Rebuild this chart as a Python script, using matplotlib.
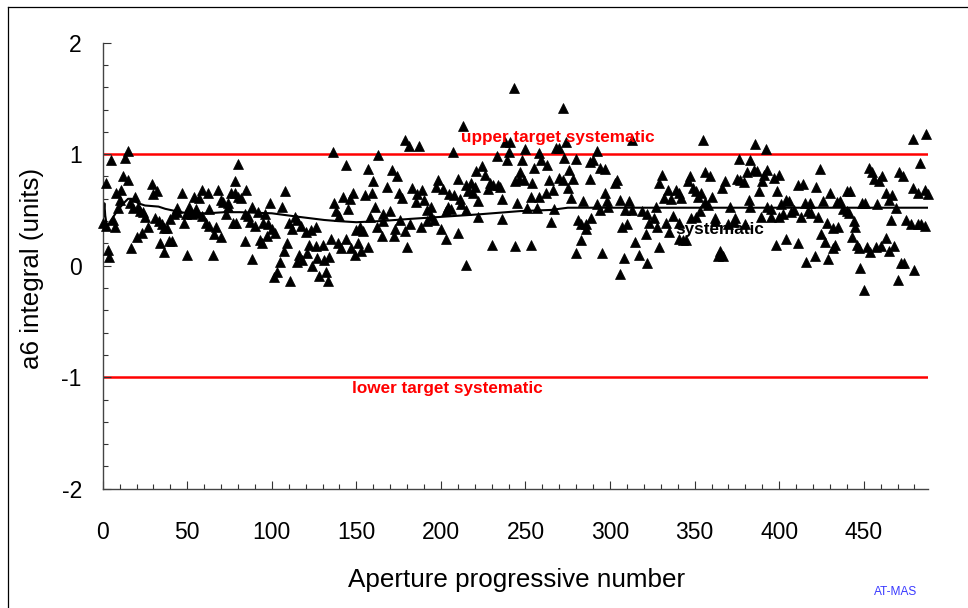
import numpy as np
import matplotlib.pyplot as plt
from matplotlib.lines import Line2D
from matplotlib.ticker import MultipleLocator

plt.rcParams['font.family'] = ['Liberation Sans', 'DejaVu Sans']
plt.rcParams['axes.unicode_minus'] = False

# aperture number / a6 integral
ap_a = [15, 13, 5, 2, 12, 15, 29, 11, 8, 32, 30, 47, 59, 62, 68, 54, 57, 78, 80, 78,
        80, 76, 19, 10, 70, 71, 74, 16, 18, 21, 9, 2, 6, 7, 22, 24, 25, 44, 44, 42,
        40, 51, 51, 55, 53, 56, 63, 59, 61, 63, 67, 66, 70, 48, 49, 31, 33, 35, 38, 36,
        27, 20, 23, 34, 39, 41, 3, 4, 17, 36, 50, 65, 77, 79, 73, 74, 0]
a6_a = [1.03, 0.97, 0.95, 0.74, 0.80, 0.77, 0.73, 0.68, 0.65, 0.67, 0.64, 0.65, 0.68, 0.65, 0.68, 0.62, 0.61, 0.76, 0.91, 0.65,
        0.62, 0.65, 0.62, 0.59, 0.59, 0.57, 0.56, 0.56, 0.52, 0.53, 0.52, 0.36, 0.41, 0.35, 0.49, 0.48, 0.44, 0.52, 0.48, 0.46,
        0.42, 0.53, 0.48, 0.51, 0.46, 0.47, 0.51, 0.45, 0.38, 0.36, 0.35, 0.28, 0.26, 0.38, 0.46, 0.43, 0.40, 0.37, 0.34, 0.34,
        0.35, 0.26, 0.29, 0.20, 0.22, 0.22, 0.14, 0.08, 0.16, 0.12, 0.10, 0.10, 0.38, 0.38, 0.46, 0.53, 0.38]

ap_b = [136, 163, 144, 157, 160, 85, 82, 108, 99, 106, 142, 148, 146, 155, 159, 137, 145, 161, 138, 140,
        158, 88, 84, 86, 92, 96, 87, 90, 95, 98, 100, 102, 110, 114, 115, 117, 112, 120, 123, 126,
        150, 152, 154, 162, 135, 139, 141, 144, 147, 149, 151, 153, 157, 84, 93, 94, 97, 109, 107, 122,
        126, 130, 121, 116, 118, 115, 127, 131, 134, 124, 105, 88, 103, 101, 111, 128, 132, 133]
a6_b = [1.02, 0.99, 0.90, 0.87, 0.76, 0.68, 0.61, 0.67, 0.56, 0.53, 0.62, 0.65, 0.60, 0.63, 0.65, 0.56, 0.51, 0.53, 0.49, 0.45,
        0.44, 0.53, 0.46, 0.45, 0.48, 0.46, 0.39, 0.36, 0.38, 0.37, 0.33, 0.29, 0.38, 0.44, 0.41, 0.36, 0.33, 0.30, 0.32, 0.35,
        0.32, 0.35, 0.31, 0.35, 0.24, 0.20, 0.16, 0.24, 0.16, 0.10, 0.20, 0.13, 0.17, 0.22, 0.23, 0.20, 0.27, 0.20, 0.13, 0.19,
        0.18, 0.19, 0.11, 0.10, 0.05, 0.03, 0.07, 0.05, 0.08, 0.00, 0.03, 0.06, -0.06, -0.10, -0.14, -0.09, -0.06, -0.14]

ap_c = [243, 213, 179, 181, 187, 207, 238, 241, 240, 233, 239, 171, 174, 168, 183, 189, 175, 177, 186, 185,
        190, 198, 197, 201, 210, 205, 208, 211, 212, 215, 218, 220, 216, 219, 221, 224, 226, 229, 231, 228,
        234, 235, 244, 246, 222, 236, 245, 192, 194, 204, 206, 203, 215, 166, 170, 166, 176, 182, 188, 194,
        192, 196, 200, 222, 236, 165, 172, 173, 179, 203, 210, 180, 230, 244, 215]
a6_c = [1.59, 1.25, 1.13, 1.07, 1.07, 1.02, 1.11, 1.11, 1.02, 0.98, 0.95, 0.86, 0.80, 0.71, 0.70, 0.68, 0.65, 0.61, 0.64, 0.57,
        0.59, 0.77, 0.71, 0.69, 0.78, 0.64, 0.63, 0.60, 0.55, 0.72, 0.74, 0.71, 0.67, 0.65, 0.85, 0.89, 0.81, 0.74, 0.72, 0.69,
        0.72, 0.71, 0.76, 0.78, 0.58, 0.60, 0.56, 0.50, 0.53, 0.53, 0.51, 0.49, 0.50, 0.46, 0.49, 0.40, 0.41, 0.37, 0.35, 0.45,
        0.40, 0.41, 0.33, 0.44, 0.42, 0.27, 0.27, 0.33, 0.31, 0.24, 0.29, 0.17, 0.19, 0.18, 0.01]

ap_d = [272, 313, 250, 258, 268, 270, 274, 259, 248, 273, 280, 292, 290, 288, 255, 263, 276, 294, 297, 247,
        249, 254, 264, 270, 272, 278, 288, 304, 303, 329, 266, 262, 275, 297, 253, 258, 277, 284, 298, 306,
        311, 251, 257, 267, 292, 294, 299, 309, 313, 319, 322, 327, 326, 323, 328, 265, 281, 283, 286, 286,
        289, 307, 310, 321, 315, 329, 283, 253, 280, 295, 308, 317, 322, 306]
a6_d = [1.41, 1.13, 1.05, 1.01, 1.06, 1.06, 1.11, 0.95, 0.95, 0.97, 0.96, 1.03, 0.95, 0.93, 0.88, 0.90, 0.86, 0.88, 0.87, 0.84,
        0.77, 0.74, 0.77, 0.79, 0.77, 0.78, 0.78, 0.77, 0.74, 0.74, 0.68, 0.65, 0.70, 0.65, 0.62, 0.62, 0.61, 0.58, 0.58, 0.59,
        0.58, 0.52, 0.52, 0.51, 0.55, 0.50, 0.53, 0.50, 0.50, 0.49, 0.46, 0.53, 0.43, 0.38, 0.35, 0.39, 0.41, 0.37, 0.37, 0.33,
        0.43, 0.35, 0.37, 0.28, 0.21, 0.17, 0.23, 0.19, 0.11, 0.11, 0.07, 0.10, 0.02, -0.07]

ap_e = [355, 386, 392, 376, 383, 331, 356, 359, 347, 346, 368, 375, 377, 379, 381, 385, 387, 393, 391, 397,
        400, 390, 349, 334, 339, 341, 351, 354, 366, 388, 399, 411, 332, 336, 342, 352, 360, 382, 356, 358,
        371, 383, 393, 404, 406, 401, 395, 409, 407, 402, 400, 333, 337, 335, 341, 348, 351, 353, 362, 362,
        374, 370, 373, 380, 389, 395, 341, 343, 345, 398, 404, 411, 365, 364, 367]
a6_e = [1.13, 1.09, 1.05, 0.96, 0.95, 0.81, 0.84, 0.80, 0.80, 0.76, 0.76, 0.78, 0.77, 0.75, 0.84, 0.86, 0.85, 0.86, 0.81, 0.79,
        0.81, 0.76, 0.70, 0.68, 0.68, 0.65, 0.67, 0.65, 0.70, 0.67, 0.67, 0.72, 0.61, 0.60, 0.61, 0.62, 0.62, 0.59, 0.57, 0.54,
        0.53, 0.53, 0.53, 0.59, 0.58, 0.55, 0.51, 0.50, 0.48, 0.46, 0.44, 0.38, 0.45, 0.30, 0.38, 0.43, 0.44, 0.49, 0.43, 0.40,
        0.43, 0.37, 0.39, 0.37, 0.44, 0.44, 0.24, 0.23, 0.23, 0.19, 0.24, 0.20, 0.13, 0.09, 0.09]

ap_f = [479, 487, 483, 424, 453, 455, 456, 461, 459, 471, 473, 414, 422, 430, 440, 442, 479, 482, 486, 488,
        463, 467, 465, 415, 418, 426, 434, 436, 449, 451, 458, 469, 438, 440, 441, 417, 419, 423, 413, 428,
        432, 435, 444, 445, 466, 475, 478, 482, 484, 486, 425, 427, 432, 433, 443, 446, 447, 452, 454, 457,
        460, 463, 465, 468, 416, 421, 429, 448, 450, 472, 474, 470, 480]
a6_f = [1.14, 1.18, 0.92, 0.87, 0.88, 0.84, 0.78, 0.80, 0.76, 0.84, 0.80, 0.73, 0.71, 0.65, 0.67, 0.67, 0.70, 0.65, 0.68, 0.64,
        0.65, 0.63, 0.59, 0.56, 0.56, 0.58, 0.57, 0.58, 0.56, 0.56, 0.55, 0.52, 0.51, 0.49, 0.47, 0.49, 0.47, 0.44, 0.44, 0.38,
        0.34, 0.35, 0.40, 0.35, 0.41, 0.41, 0.37, 0.37, 0.37, 0.36, 0.28, 0.21, 0.16, 0.19, 0.26, 0.19, 0.16, 0.17, 0.12, 0.17,
        0.18, 0.25, 0.13, 0.18, 0.03, 0.09, 0.06, -0.02, -0.22, 0.02, 0.02, -0.13, -0.04]

aperture = np.array(ap_a + ap_b + ap_c + ap_d + ap_e + ap_f)
a6 = np.array(a6_a + a6_b + a6_c + a6_d + a6_e + a6_f)

# running systematic curve
sys_ap = [0, 1, 1.5, 2.5, 5, 9, 13, 15, 17, 21, 25, 33, 37, 43, 50, 62, 72, 81, 100, 115,
          131, 139, 150, 164, 182, 202, 222, 247, 265, 275, 304, 330, 360, 400, 440, 488]
sys_a6 = [0.38, 0.56, 0.45, 0.35, 0.41, 0.50, 0.57, 0.60, 0.60, 0.56, 0.54, 0.53, 0.51, 0.49, 0.47, 0.47, 0.48, 0.48, 0.47, 0.44,
          0.41, 0.40, 0.39, 0.40, 0.42, 0.44, 0.46, 0.49, 0.50, 0.52, 0.52, 0.52, 0.52, 0.52, 0.52, 0.52]

upper_target = 1.0
lower_target = -1.0

W, H = 968, 608
fig = plt.figure(figsize=(W / 100, H / 100), dpi=100)
ax = fig.add_axes([102.7 / W, 1 - 488.7 / H, (928 - 102.7) / W, (488.7 - 42.7) / H])

ax.axhline(upper_target, color='#ff0000', lw=1.8, zorder=1)
ax.axhline(lower_target, color='#ff0000', lw=1.8, zorder=1)
ax.plot(sys_ap, sys_a6, color='black', lw=1.5, zorder=2)
ax.plot(aperture, a6, ls='none', marker='^', ms=6.8, mfc='black', mec='black', mew=0.5, zorder=3, clip_on=False)

ax.text(211.7, 1.108, 'upper target systematic', color='#ff0000', fontsize=12.3, fontweight='bold', va='baseline')
ax.text(147.4, -1.146, 'lower target systematic', color='#ff0000', fontsize=12.3, fontweight='bold', va='baseline')
ax.text(338.4, 0.283, 'systematic', color='black', fontsize=12.3, fontweight='bold', va='baseline')

ax.set_xlim(0, 488)
ax.set_ylim(-2, 2)
for s in ['top', 'right']:
    ax.spines[s].set_visible(False)
for s in ['left', 'bottom']:
    ax.spines[s].set_color('#444444')
    ax.spines[s].set_linewidth(1.0)

ax.set_xticks(range(0, 451, 50))
ax.set_xticklabels([str(v) for v in range(0, 451, 50)])
ax.xaxis.set_minor_locator(MultipleLocator(10))
ax.set_yticks([-2, -1, 0, 1, 2])
ax.set_yticklabels(['-2', '-1', '0', '1', '2'])
ax.yaxis.set_minor_locator(MultipleLocator(0.2))
ax.tick_params(which='both', direction='in', color='#333333', width=0.8, labelsize=16.5)
ax.tick_params(which='major', length=5.8)
ax.tick_params(which='minor', length=3.6)
ax.tick_params(axis='x', which='major', pad=23.5)
ax.tick_params(axis='y', which='major', pad=15)

fig.text(516.5 / W, 1 - 586.6 / H, 'Aperture progressive number', fontsize=18.7, ha='center', va='baseline')
fig.text(31.7 / W, 1 - 268 / H, 'a6 integral (units)', fontsize=18.7, rotation=90, ha='center', va='center')
fig.text(895.5 / W, 1 - 592 / H, 'AT-MAS', fontsize=8.6, color='#3a3aff', ha='center', va='center')

# outer frame (only left and top edges visible)
fig.add_artist(Line2D([8 / W, 8 / W], [0, 1 - 7 / H], color='black', lw=0.9))
fig.add_artist(Line2D([8 / W, 1], [1 - 7 / H, 1 - 7 / H], color='black', lw=0.9))

fig.savefig('out.png', dpi=100)
